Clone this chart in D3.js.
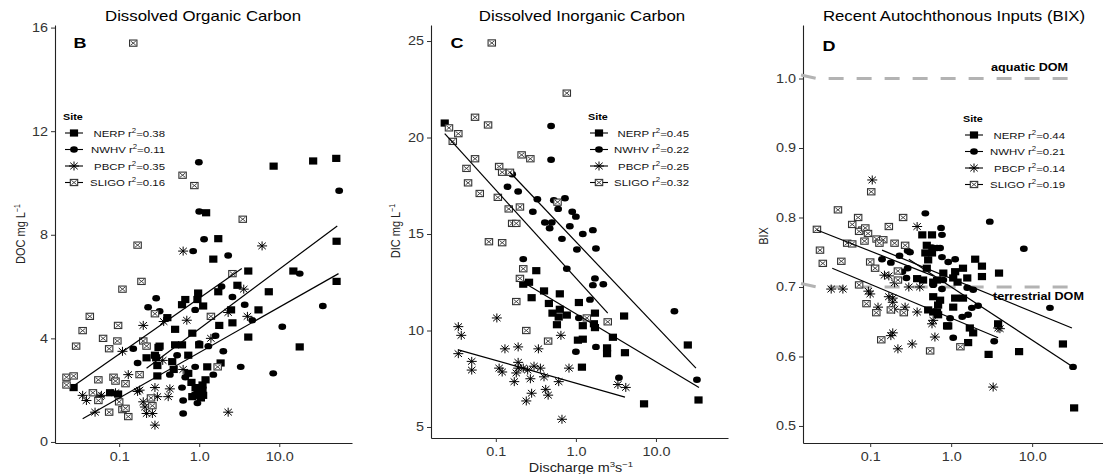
<!DOCTYPE html>
<html>
<head>
<meta charset="utf-8">
<script src="https://cdn.jsdelivr.net/npm/d3@7"></script>
<style>
  body { margin: 0; background: #fff; }
  text { font-family: "Liberation Sans", Arial, sans-serif; }
</style>
</head>
<body>
<svg id="chart" width="1103" height="474"></svg>
<script>
// ---- data: [discharge m3/s, value] ----
const sites = ["NERP", "NWHV", "PBCP", "SLIGO"];
const xTicks = [0.1, 1, 10];
const xTickLabels = ["0.1", "1.0", "10.0"];

// panel B, dissolved organic carbon (mg/L)
const docNERP = [[8.5,10.65],[26.5,10.85],[51.5,10.95],[1.22,8.85],[1.73,7.85],[52,7.75],[1.5,7.06],[4.1,6.6],[15,6.6],[52,6.2],
  [3.0,6.05],[1.73,5.8],[7.4,5.8],[0.97,5.75],[0.67,5.5],[0.95,5.5],[1.12,5.25],[0.61,5.3],[5.5,5.1],[2.5,5.1],[0.4,4.8],[2.6,4.6],
  [0.5,4.35],[1.78,4.5],[4.1,4.05],[0.61,3.75],[1.0,3.75],[18,3.67],[0.32,3.7],[0.22,3.25],[0.29,3.25],[0.3,2.95],[0.46,3.1],
  [0.73,3.35],[1.26,2.9],[1.85,3.05],[0.48,2.8],[0.3,2.55],[0.027,2.1],[0.95,2.0],[0.077,1.9],[0.097,1.85],[0.82,1.75],[1.12,1.8],
  [1.0,1.95],[0.5,3.75],[0.82,4.2],[0.73,2.65],[1.1,2.0],[0.28,3.35],[0.31,3.65],[0.8,2.3],[0.9,2.1],[1.1,2.2],[1.2,2.4],[1.05,1.7],[0.9,1.8]];
const docNWHV = [[0.99,10.8],[56,9.7],[1.0,8.9],[1.15,7.83],[0.84,7.37],[2.3,7.2],[18,6.5],[1.9,6.0],[0.29,5.55],[2.6,5.6],[0.23,5.2],
  [0.32,5.05],[3.7,5.3],[0.89,5.1],[4.6,4.7],[10.9,4.45],[0.15,3.6],[0.17,3.05],[0.53,3.35],[0.89,2.9],[3.3,2.9],[8.4,2.65],[0.43,2.6],
  [0.67,2.5],[0.61,2.1],[0.95,1.5],[0.63,1.6],[0.63,1.1],[35,5.25],[1.0,3.8],[1.3,3.7],[1.6,4.1],[2.0,3.5],[1.5,2.6]];
const docPBCP = [[0.63,7.37],[6.1,7.57],[3.6,5.9],[2.3,5.0],[0.36,4.65],[4.0,4.85],[0.2,4.5],[0.7,4.7],[0.11,3.5],[0.63,2.8],[0.35,3.15],
  [0.13,2.6],[0.28,2.1],[0.18,2.0],[0.43,2.05],[0.035,1.8],[0.058,1.75],[0.039,1.6],[0.06,1.8],[0.17,1.95],[0.21,1.35],[0.22,1.1],
  [0.26,1.1],[0.28,0.65],[0.3,1.75],[0.05,1.15],[0.09,1.9],[0.2,1.55],[2.3,1.15],[0.41,1.75],[1.4,4.0]];
const docSLIGO = [[0.15,15.4],[0.62,10.3],[0.87,9.9],[3.5,8.6],[0.17,7.6],[2.6,6.5],[0.19,6.2],[0.11,5.9],[0.28,4.95],[1.4,4.85],
  [0.043,4.85],[0.035,4.3],[0.097,4.5],[0.063,4.0],[0.095,3.9],[0.029,3.7],[0.075,3.6],[0.2,3.9],[1.7,2.9],[0.022,2.5],[0.027,2.55],
  [0.055,2.4],[0.085,2.5],[0.09,2.35],[0.18,2.6],[0.022,2.2],[0.12,2.25],[0.047,1.9],[0.1,1.55],[0.055,1.6],[0.075,1.15],[0.11,1.25],
  [0.13,0.98],[0.22,3.7],[0.25,1.7],[0.26,1.4],[0.12,1.3]];
const docR2 = ["0.38", "0.11", "0.35", "0.16"];
const docFits = [[[0.028,2.2],[3.4,6.7]], [[0.22,2.85],[53,8.34]], [[0.035,0.9],[55,6.5]]];
const docTicks = [0, 4, 8, 12, 16];

// panel C, dissolved inorganic carbon (mg/L)
const dicNERP = [[0.023,20.75],[0.32,13.1],[0.26,12.5],[0.22,12.4],[0.4,12.05],[0.63,11.9],[0.28,11.7],[0.46,11.4],[1.09,11.45],
  [0.63,11.1],[0.51,10.9],[0.77,10.8],[0.61,10.7],[1.73,10.9],[4.0,10.75],[1.22,10.25],[0.58,10.3],[1.68,10.35],[1.73,10.15],
  [2.9,9.65],[1.06,9.5],[1.22,9.55],[2.45,9.1],[2.45,8.8],[4.1,8.85],[25,9.25],[1.19,8.1],[7.1,6.2],[34,6.4]];
const dicNWHV = [[0.49,20.6],[0.49,18.85],[0.16,18.1],[0.14,17.45],[0.19,17.2],[0.33,16.8],[0.53,16.75],[0.73,16.85],[0.29,16.15],
  [0.6,16.3],[0.9,16.15],[1.0,15.9],[0.41,15.6],[0.5,15.6],[0.47,15.3],[0.84,15.4],[0.67,14.75],[1.22,15.0],[1.63,15.2],[1.03,14.2],
  [1.78,14.25],[0.22,13.7],[0.77,13.2],[1.73,12.7],[1.63,12.35],[2.2,12.4],[1.5,11.6],[1.09,10.65],[17,11.0],[1.78,9.15],[1.0,8.9],
  [3.45,7.55],[32.5,7.45]];
const dicPBCP = [[0.103,10.65],[0.65,9.75],[0.13,9.05],[0.19,9.15],[0.34,9.05],[0.11,8.05],[0.12,7.85],[0.19,8.35],[0.19,8.05],
  [0.22,8.05],[0.3,8.15],[0.36,8.05],[0.25,7.95],[0.18,7.8],[0.17,7.35],[0.27,7.5],[0.4,7.6],[0.61,7.35],[0.82,8.05],[0.42,6.95],
  [0.28,6.75],[0.45,6.65],[0.24,6.35],[0.67,5.4],[3.35,7.2],[4.2,7.05],[0.034,10.2],[0.037,9.75],[0.034,8.8],[0.05,8.4],[0.05,7.95]];
const dicSLIGO = [[0.089,24.9],[0.77,22.3],[0.026,20.5],[0.034,20.2],[0.029,19.8],[0.055,21.05],[0.08,20.65],[0.21,19.1],[0.27,18.9],
  [0.055,18.9],[0.043,18.4],[0.11,18.5],[0.12,18.2],[0.15,18.2],[0.045,17.65],[0.063,17.1],[0.106,16.9],[0.59,16.65],[0.145,16.3],
  [0.2,16.4],[0.16,15.55],[0.18,15.55],[0.082,14.6],[0.12,14.55],[0.22,13.2],[0.2,12.7],[0.18,11.5],[1.37,10.65],[2.5,10.45],
  [0.24,10.0],[0.45,9.45]];
const dicR2 = ["0.45", "0.22", "0.25", "0.32"];
const dicFits = [[[0.023,20.2],[2.5,10.9]], [[0.15,18.2],[31.6,8.05]], [[0.22,12.5],[34.5,7.05]], [[0.034,9.0],[4.1,6.55]]];
const dicTicks = [5, 10, 15, 20, 25];

// panel D, biological index BIX
const bixNERP = [[0.44,0.775],[0.58,0.775],[0.5,0.76],[0.58,0.749],[0.48,0.749],[0.52,0.739],[0.5,0.727],[0.38,0.712],[0.45,0.71],
  [0.6,0.707],[0.52,0.667],[0.67,0.664],[0.89,0.644],[1.98,0.74],[2.4,0.73],[3.9,0.72],[2.4,0.715],[1.12,0.722],[1.4,0.727],
  [1.06,0.713],[1.58,0.713],[0.8,0.72],[0.67,0.71],[1.2,0.707],[0.6,0.686],[0.73,0.681],[1.12,0.684],[1.4,0.684],[0.69,0.674],
  [1.06,0.671],[0.6,0.664],[0.69,0.66],[0.92,0.644],[1.7,0.641],[1.87,0.634],[3.8,0.647],[1.62,0.62],[2.9,0.603],[6.9,0.607],
  [24,0.618],[33,0.526]];
const bixNWHV = [[0.48,0.806],[3.0,0.794],[0.75,0.785],[0.77,0.775],[0.31,0.75],[0.67,0.756],[0.14,0.74],[0.18,0.735],[0.23,0.745],
  [0.29,0.752],[0.29,0.727],[0.25,0.722],[0.28,0.713],[7.9,0.755],[0.58,0.757],[0.73,0.756],[0.77,0.743],[0.92,0.736],[1.12,0.74],
  [0.8,0.71],[0.6,0.703],[0.77,0.697],[1.58,0.699],[1.87,0.696],[1.8,0.67],[2.15,0.673],[16.6,0.67],[0.97,0.655],[1.37,0.657],
  [1.62,0.66],[1.06,0.627],[3.4,0.622],[32,0.585]];
const bixPBCP = [[0.106,0.854],[0.38,0.787],[0.15,0.717],[0.17,0.716],[0.2,0.706],[0.033,0.697],[0.046,0.697],[0.095,0.694],
  [0.1,0.69],[0.3,0.7],[0.41,0.7],[0.17,0.686],[0.19,0.684],[0.19,0.678],[0.125,0.671],[0.2,0.668],[0.27,0.671],[0.38,0.664],
  [0.6,0.652],[0.58,0.647],[0.19,0.634],[0.18,0.63],[0.22,0.611],[0.33,0.618],[0.63,0.628],[3.8,0.641],[3.3,0.556],[4.0,0.64]];
const bixSLIGO = [[0.103,0.837],[0.04,0.811],[0.071,0.8],[0.255,0.8],[0.17,0.787],[0.06,0.79],[0.022,0.783],[0.08,0.782],[0.073,0.78],
  [0.087,0.785],[0.094,0.777],[0.085,0.766],[0.12,0.769],[0.145,0.768],[0.13,0.763],[0.2,0.763],[0.27,0.76],[0.052,0.763],[0.06,0.762],
  [0.024,0.753],[0.044,0.737],[0.026,0.734],[0.1,0.736],[0.115,0.727],[0.22,0.723],[0.22,0.71],[0.073,0.703],[0.09,0.676],
  [0.119,0.663],[0.18,0.667],[0.26,0.663],[0.137,0.624],[0.55,0.608],[1.3,0.614]];
const bixR2 = ["0.44", "0.21", "0.14", "0.19"];
const bixFits = [[[0.022,0.782],[0.6,0.716]], [[0.14,0.753],[31,0.641]], [[0.3,0.74],[32,0.585]], [[0.034,0.727],[3.8,0.627]]];
const bixTicks = [0.5, 0.6, 0.7, 0.8, 0.9, 1.0];
const bixRefValues = [1.0, 0.7];
const bixRefLabels = ["aquatic DOM", "terrestrial DOM"];

// the reference picture is stretched sideways, text gets the same stretch
const SX = 1.2;
const svg = d3.select("#chart");

function addText(parent, x, y, size, opts = {}) {
  let tr = `translate(${x},${y}) scale(${SX},1)`;
  if (opts.rotate) tr += ` rotate(${opts.rotate})`;
  return parent.append("g").attr("transform", tr)
    .append("text")
    .attr("text-anchor", opts.anchor || "start")
    .attr("font-size", size)
    .attr("font-weight", opts.weight || "normal")
    .attr("fill", opts.fill || "#000");
}

// one marker per site, drawn as in R pch 15/16/8/7
function drawMarks(g, site, data, x, y) {
  const sel = g.append("g").selectAll("g").data(data).join("g")
    .attr("transform", d => `translate(${x(d[0])},${y(d[1])})`);
  addMarker(sel, site);
}
function addMarker(sel, site) {
  if (site === "NERP") {
    sel.append("rect").attr("x", -4.1).attr("y", -3.6).attr("width", 8.2).attr("height", 7.2).attr("fill", "#000");
  } else if (site === "NWHV") {
    sel.append("ellipse").attr("rx", 3.9).attr("ry", 3.2).attr("fill", "#000");
  } else if (site === "PBCP") {
    sel.append("path").attr("d", "M-5,0H5M0,-4.5V4.5M-3.7,-3.3L3.7,3.3M-3.7,3.3L3.7,-3.3")
      .attr("stroke", "#000").attr("stroke-width", 1).attr("fill", "none");
  } else {
    sel.append("rect").attr("x", -3.7).attr("y", -3.1).attr("width", 7.4).attr("height", 6.2)
      .attr("fill", "#fff").attr("stroke", "#333").attr("stroke-width", 1.1);
    sel.append("path").attr("d", "M-2.6,-2.1L2.6,2.1M-2.6,2.1L2.6,-2.1")
      .attr("stroke", "#333").attr("stroke-width", 0.9);
  }
}

const panels = [
  { letter: "B", title: "Dissolved Organic Carbon", titleX: 203, letterX: 80, letterY: 48,
    left: 55, right: 352, top: 25, bottom: 443, xDom: [0.0158, 81], yDom: [-0.04, 16.1],
    yTicks: docTicks, yFmt: d => String(d), series: [docNERP, docNWHV, docPBCP, docSLIGO], r2: docR2, fits: docFits,
    yLabel: "DOC mg L", yLabelX: 25, yLabelY: 234, legendX: 63, legendEnd: 165, legendY: 133 },
  { letter: "C", title: "Dissolved Inorganic Carbon", titleX: 582, letterX: 457, letterY: 48,
    left: 431, right: 728, top: 25, bottom: 438, xDom: [0.0155, 79.4], yDom: [4.43, 25.83],
    yTicks: dicTicks, yFmt: d => String(d), series: [dicNERP, dicNWHV, dicPBCP, dicSLIGO], r2: dicR2, fits: dicFits,
    yLabel: "DIC mg L", yLabelX: 400, yLabelY: 231, legendX: 588, legendEnd: 689, legendY: 133 },
  { letter: "D", title: "Recent Autochthonous Inputs (BIX)", titleX: 954, letterX: 829, letterY: 51,
    left: 803, right: 1103, top: 25, bottom: 443, xDom: [0.0148, 75], yDom: [0.4755, 1.077],
    yTicks: bixTicks, yFmt: d => d.toFixed(1), series: [bixNERP, bixNWHV, bixPBCP, bixSLIGO], r2: bixR2, fits: bixFits,
    yLabel: "BIX", yLabelX: 768, yLabelY: 236, legendX: 963, legendEnd: 1065, legendY: 135 }
];

panels.forEach(p => {
  const g = svg.append("g");
  const x = d3.scaleLog().domain(p.xDom).range([p.left, p.right]);
  const y = d3.scaleLinear().domain(p.yDom).range([p.bottom, p.top]);

  // axes
  const xAxis = g.append("g").attr("transform", `translate(0,${p.bottom})`)
    .call(d3.axisBottom(x).tickValues(xTicks).tickFormat((d, i) => xTickLabels[i]).tickSize(4).tickSizeOuter(0).tickPadding(5));
  const yAxis = g.append("g").attr("transform", `translate(${p.left},0)`)
    .call(d3.axisLeft(y).tickValues(p.yTicks).tickFormat(p.yFmt).tickSize(4).tickSizeOuter(0).tickPadding(3));
  [xAxis, yAxis].forEach(a => {
    a.select(".domain").attr("stroke", "#222").attr("stroke-width", 1.1);
    a.selectAll(".tick line").attr("stroke", "#333");
    a.selectAll(".tick text").attr("font-size", 12).attr("fill", "#333")
      .attr("font-family", "Liberation Sans, Arial, sans-serif").attr("transform", `scale(${SX},1)`);
  });
  yAxis.selectAll(".tick text").attr("x", -7 / SX);

  // reference lines for BIX
  if (p.letter === "D") {
    bixRefValues.forEach((v, i) => {
      const yy = y(v);
      g.append("path")
        .attr("d", `M${p.left - 2},${yy - 3.5}L${x(0.022)},${yy}L${x(37)},${yy}`)
        .attr("fill", "none").attr("stroke", "#b3b3b3").attr("stroke-width", 3)
        .attr("stroke-dasharray", "15,13");
    });
  }

  // points
  sites.forEach((s, i) => drawMarks(g, s, p.series[i], x, y));

  // fitted lines
  const line = d3.line().x(d => x(d[0])).y(d => y(d[1]));
  g.append("g").selectAll("path").data(p.fits).join("path")
    .attr("d", line).attr("fill", "none").attr("stroke", "#000").attr("stroke-width", 1.2);

  if (p.letter === "D") {
    addText(g, 1068, 71, 10.5, { anchor: "end", weight: "bold" }).text(bixRefLabels[0]);
    addText(g, 993, 300, 10.5, { weight: "bold" }).text(bixRefLabels[1]);
  }

  // titles and labels
  addText(g, p.titleX, 21, 14, { anchor: "middle" }).text(p.title);
  addText(g, p.letterX, p.letterY, 15, { anchor: "middle", weight: "bold" }).text(p.letter);
  const yl = addText(g, p.yLabelX, p.yLabelY, 11, { anchor: "middle", rotate: -90, fill: "#222" });
  yl.append("tspan").text(p.yLabel);
  if (p.letter !== "D") yl.append("tspan").attr("font-size", 7).attr("dy", -4).text("\u22121");

  // legend
  const lg = g.append("g");
  addText(lg, p.legendX, p.legendY - 13, 9, { weight: "bold" }).text("Site");
  const symX = p.legendX + 11;
  sites.forEach((s, i) => {
    const yy = p.legendY + i * 16.5;
    lg.append("line").attr("x1", symX - 9).attr("x2", symX + 9).attr("y1", yy).attr("y2", yy)
      .attr("stroke", "#000").attr("stroke-width", 1.1);
    addMarker(lg.append("g").attr("transform", `translate(${symX},${yy})`), s);
    const t = addText(lg, p.legendEnd, yy + 3.5, 9.5, { anchor: "end", fill: "#111" });
    t.append("tspan").text(s + " r");
    t.append("tspan").attr("font-size", 6.5).attr("dy", -4).text("2");
    t.append("tspan").attr("dy", 4).text("=" + p.r2[i]);
  });
});

// shared x-axis title
const xl = addText(svg, 581, 472, 12, { anchor: "middle", fill: "#222" });
xl.append("tspan").text("Discharge m");
xl.append("tspan").attr("font-size", 8).attr("dy", -5).text("3");
xl.append("tspan").attr("dy", 5).text("s");
xl.append("tspan").attr("font-size", 8).attr("dy", -5).text("\u22121");
</script>
</body>
</html>
